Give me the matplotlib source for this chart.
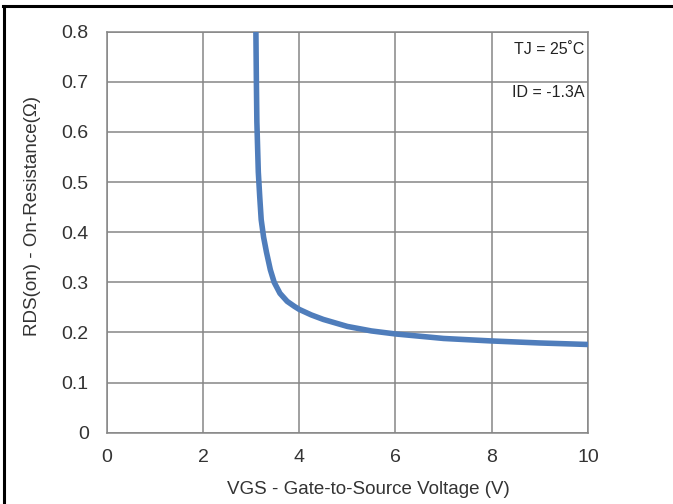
import matplotlib
matplotlib.use("Agg")
import matplotlib.pyplot as plt
from matplotlib.lines import Line2D

plt.rcParams['font.family'] = ['Liberation Sans', 'DejaVu Sans']

vgs = [3.10, 3.11, 3.12, 3.15, 3.18, 3.21, 3.26, 3.32, 3.40, 3.48, 3.60, 3.75, 3.90, 4.0,
       4.25, 4.5, 5.0, 5.5, 6.0, 7.0, 8.0, 9.0, 10.0]
rds = [0.80, 0.70, 0.62, 0.52, 0.47, 0.425, 0.39, 0.36, 0.325, 0.30, 0.278, 0.262, 0.252, 0.246,
       0.235, 0.226, 0.212, 0.203, 0.197, 0.188, 0.183, 0.179, 0.176]

xticks = [0, 2, 4, 6, 8, 10]
yticks = [0, 0.1, 0.2, 0.3, 0.4, 0.5, 0.6, 0.7, 0.8]
ytick_labels = ['0', '0.1', '0.2', '0.3', '0.4', '0.5', '0.6', '0.7', '0.8']

W, H = 673, 504
fig = plt.figure(figsize=(W / 100, H / 100), dpi=100)
ax = fig.add_axes([106.7 / W, 1 - 432.7 / H, (588 - 106.7) / W, (432.7 - 31.7) / H])

ax.plot(vgs, rds, color='#4f7dbb', lw=4.0, solid_capstyle='butt', solid_joinstyle='round', zorder=3)

ax.set_xlim(0, 10)
ax.set_ylim(0, 0.8)
ax.set_xticks(xticks)
ax.set_yticks(yticks)
ax.set_yticklabels(ytick_labels)
ax.grid(True, color='#868686', lw=1.1)
for s in ax.spines.values():
    s.set_color('#868686')
    s.set_linewidth(1.1)
ax.tick_params(length=0, labelsize=14, colors='#333333', pad=13)
ax.tick_params(axis='x', pad=12)

ax.text(9.93, 0.765, 'TJ = 25˚C', ha='right', va='center', fontsize=11.5, color='#222222')
ax.text(9.93, 0.678, 'ID = -1.3A', ha='right', va='center', fontsize=11.5, color='#222222')

fig.text(368 / W, 1 - 490 / H, 'VGS - Gate-to-Source Voltage (V)', ha='center', va='center',
         fontsize=13.5, color='#333333')
fig.text(33 / W, 1 - 216 / H, 'RDS(on) - On-Resistance(Ω)', ha='center', va='center',
         rotation=90, fontsize=13.5, color='#333333')

# page frame lines (left and top)
fig.add_artist(Line2D([4 / W, 4 / W], [0, 1 - 6 / H], transform=fig.transFigure, color='black', lw=2.2))
fig.add_artist(Line2D([3 / W, 1], [1 - 6 / H, 1 - 6 / H], transform=fig.transFigure, color='black', lw=2.2))

fig.savefig('out.png', dpi=100)
